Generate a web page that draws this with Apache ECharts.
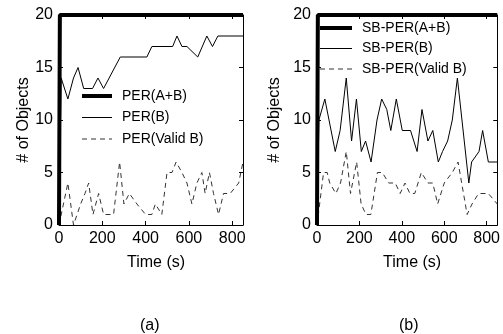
<!DOCTYPE html>
<html><head><meta charset="utf-8">
<script src="https://cdn.jsdelivr.net/npm/echarts@6/dist/echarts.min.js"></script>
<style>html,body{margin:0;padding:0;background:#fff}#c{width:503px;height:334px}</style>
</head><body><div id="c"></div>
<script>
// ---- data ----
const xTicks = [0, 200, 400, 600, 800];
const yTicks = [0, 5, 10, 15, 20];

// (a) PER
const perAB_t = [0, 4, 850];
const perAB_v = [0, 20, 20];
const perB_t = [0, 10, 41, 67, 88, 114, 155, 180, 206, 283, 406, 429, 525, 545, 568, 591, 641, 683, 709, 734, 850];
const perB_v = [0, 14, 12, 14, 15, 13, 13, 14, 13, 16, 16, 17, 17, 18, 17, 17, 16, 18, 17, 18, 18];
const perV_t = [0, 41, 67, 100, 120, 137, 157, 183, 206, 252, 280, 300, 325, 360, 400, 429, 445, 475, 499, 522, 541, 568, 591, 614, 637, 660, 675, 695, 714, 737, 760, 791, 830, 850];
const perV_v = [0, 4, 0, 2, 3, 4, 1, 3, 1, 1, 6, 2, 3, 2, 1, 1, 2, 1, 5, 5, 6, 5, 4, 2, 4, 5, 3, 5, 3, 1, 3, 3, 4, 6];

// (b) SB-PER
const sbAB_t = [0, 4, 850];
const sbAB_v = [0, 20, 20];
const sbB_t = [0, 9, 37, 86, 109, 138, 163, 186, 209, 229, 255, 283, 305, 329, 348, 374, 402, 441, 472, 495, 523, 546, 572, 592, 616, 638, 662, 716, 729, 764, 781, 808, 850];
const sbB_v = [0, 10, 12, 7, 9, 14, 8, 12, 7, 8, 6, 10, 12, 11, 9, 12, 9, 9, 7, 11, 8, 9, 6, 7, 8, 10, 14, 4, 6, 7, 9, 6, 6];
const sbV_t = [0, 31, 48, 60, 89, 111, 138, 158, 187, 208, 231, 254, 285, 308, 338, 369, 392, 415, 438, 461, 492, 523, 546, 569, 600, 638, 665, 708, 731, 762, 808, 850];
const sbV_v = [0, 5, 5, 4, 3, 4, 7, 3, 6, 2, 1, 1, 5, 5, 4, 4, 3, 4, 3, 3, 5, 4, 4, 2, 4, 5, 6, 1, 2, 3, 3, 2];

const legendA = ['PER(A+B)', 'PER(B)', 'PER(Valid B)'];
const legendB = ['SB-PER(A+B)', 'SB-PER(B)', 'SB-PER(Valid B)'];

const zip = (t, v) => t.map((x, i) => [x, v[i]]);
const FONT = 'Liberation Sans, Arial, sans-serif';

const grids = [
  {left: 59, top: 15, width: 184, height: 210},
  {left: 317, top: 15, width: 184, height: 210}
];

function xAxes(gi) {
  const common = {
    type: 'value', gridIndex: gi, min: 0, max: 850, interval: 200,
    splitLine: {show: false},
    axisLine: {show: true, onZero: false, lineStyle: {color: '#000', width: 1}},
    axisTick: {show: true, inside: true, length: 4, lineStyle: {color: '#000'}},
  };
  return [
    Object.assign({}, common, {
      position: 'bottom',
      axisLabel: {show: true, showMaxLabel: false, color: '#000', fontSize: 16, fontFamily: FONT, margin: 6,
        formatter: v => xTicks.includes(v) ? String(v) : ''},
      name: 'Time (s)', nameLocation: 'middle', nameGap: 30,
      nameTextStyle: {color: '#000', fontSize: 16, fontFamily: FONT, padding: [0, 0, 0, 10]}
    }),
    Object.assign({}, common, {position: 'top', axisLabel: {show: false}})
  ];
}
function yAxes(gi, nameGap) {
  const common = {
    type: 'value', gridIndex: gi, min: 0, max: 20, interval: 5,
    splitLine: {show: false},
    axisLine: {show: true, onZero: false, lineStyle: {color: '#000', width: 1}},
    axisTick: {show: true, inside: true, length: 4, lineStyle: {color: '#000'}},
  };
  return [
    Object.assign({}, common, {
      position: 'left',
      axisLabel: {show: true, color: '#000', fontSize: 16, fontFamily: FONT, margin: 6,
        formatter: v => yTicks.includes(v) ? String(v) : ''},
      name: '# of Objects', nameLocation: 'middle', nameGap: nameGap,
      nameTextStyle: {color: '#000', fontSize: 16, fontFamily: FONT}
    }),
    Object.assign({}, common, {position: 'right', axisLabel: {show: false}})
  ];
}

function mkSeries(name, data, xi, yi, style) {
  return {
    name: name, type: 'line', data: data, xAxisIndex: xi, yAxisIndex: yi,
    symbol: 'none', showSymbol: false, silent: true, animation: false,
    clip: style.clip !== undefined ? style.clip : true,
    lineStyle: {color: style.color || '#000', width: style.width, type: style.type || 'solid'},
    itemStyle: {color: style.color || '#000'}, z: style.z || 2
  };
}

const legendWidths = [4, 1, 1];
const legendItems = names => names.map((n, i) => ({name: n, lineStyle: {width: legendWidths[i]}}));

const legendBase = {
  orient: 'vertical', itemWidth: 30, itemHeight: 14, itemGap: 7.5,
  textStyle: {color: '#000', fontSize: 14, fontFamily: FONT, padding: [0, 0, 0, 5]},
  itemStyle: {color: 'rgba(0,0,0,0)', borderWidth: 0, opacity: 0},
  selectedMode: false
};

const option = {
  animation: false,
  backgroundColor: '#fff',
  grid: grids,
  xAxis: [...xAxes(0), ...xAxes(1)],
  yAxis: [...yAxes(0, 26), ...yAxes(1, 34)],
  legend: [
    Object.assign({}, legendBase, {left: 75, top: 84, data: legendItems(legendA)}),
    Object.assign({}, legendBase, {left: 313, top: 16, itemWidth: 32, itemGap: 6.5, data: legendItems(legendB)})
  ],
  series: [
    mkSeries(legendA[0], zip(perAB_t, perAB_v), 0, 0, {width: 4, clip: false, z: 3}),
    mkSeries(legendA[1], zip(perB_t, perB_v), 0, 0, {width: 1}),
    mkSeries(legendA[2], zip(perV_t, perV_v), 0, 0, {width: 1, type: [5, 4], color: '#333'}),
    mkSeries(legendB[0], zip(sbAB_t, sbAB_v), 2, 2, {width: 4, clip: false, z: 3}),
    mkSeries(legendB[1], zip(sbB_t, sbB_v), 2, 2, {width: 1}),
    mkSeries(legendB[2], zip(sbV_t, sbV_v), 2, 2, {width: 1, type: [5, 4], color: '#333'})
  ],
  graphic: [
    {type: 'text', left: 140, top: 318, style: {text: '(a)', fill: '#000', font: '16px ' + FONT}},
    {type: 'text', left: 399, top: 318, style: {text: '(b)', fill: '#000', font: '16px ' + FONT}}
  ]
};

const chart = echarts.init(document.getElementById('c'), null, {renderer: 'canvas'});
chart.setOption(option);
</script>
</body></html>
